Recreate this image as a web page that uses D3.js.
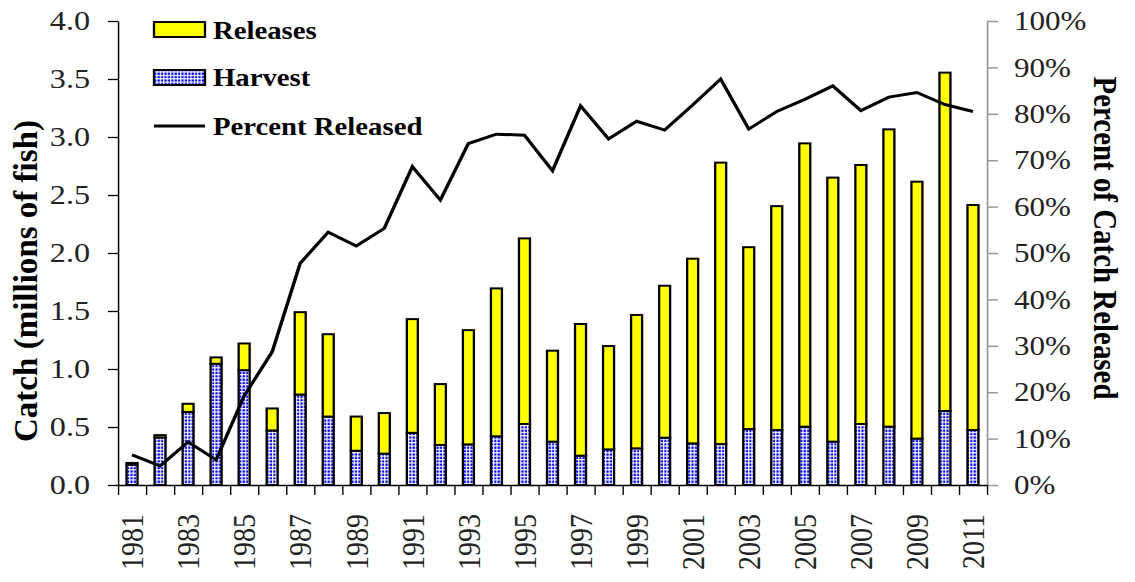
<!DOCTYPE html>
<html><head><meta charset="utf-8">
<script src="https://cdn.jsdelivr.net/npm/d3@7"></script>
<style>body{margin:0;background:#fff}svg{display:block}</style>
</head><body><svg id="c" width="1135" height="582"></svg>
<script>
const years = d3.range(1981, 2012);
const harvest = [0.175,0.41,0.63,1.045,0.99,0.47,0.78,0.59,0.295,0.27,
  0.45,0.345,0.35,0.42,0.526,0.374,0.253,0.307,0.316,0.408,
  0.359,0.353,0.482,0.474,0.503,0.374,0.526,0.503,0.40,0.638,0.474];
const releases = [0.015,0.02,0.07,0.055,0.23,0.19,0.71,0.71,0.295,0.35,
  0.98,0.525,0.985,1.275,1.60,0.784,1.135,0.891,1.15,1.31,
  1.592,2.426,1.568,1.93,2.442,2.276,2.233,2.563,2.215,2.917,1.94];
const percentReleased = [6.5,4.1,9.3,5.4,19.2,28.7,47.8,54.5,51.5,55.3,
  68.6,61.4,73.6,75.6,75.4,67.7,81.7,74.6,78.4,76.5,
  81.9,87.5,76.7,80.5,83.1,86.0,80.7,83.6,84.6,82.0,80.5];
const leftTicks = [0,0.5,1.0,1.5,2.0,2.5,3.0,3.5,4.0];
const rightTicks = [0,10,20,30,40,50,60,70,80,90,100];
const labelYears = years.filter(y => y % 2 === 1);
const legendLabels = ["Releases","Harvest","Percent Released"];
const leftTitle = "Catch (millions of fish)";
const rightTitle = "Percent of Catch Released";

const SX = 1.15;               // horizontal stretch of the original picture
const X = px => px / SX;       // screen px -> inner coords
const FONT = "'Liberation Serif','Times New Roman',serif";

const svg = d3.select("#c");
const defs = svg.append("defs");
const P = 3.4;
const pat = defs.append("pattern").attr("id","hatch").attr("patternUnits","userSpaceOnUse")
  .attr("width", X(P)).attr("height", P);
pat.append("rect").attr("width", X(P)).attr("height", P).attr("fill","#0000ff");
pat.append("rect").attr("width", X(1.2)).attr("height", P).attr("fill","#ffffff");
pat.append("rect").attr("width", X(P)).attr("height", 1.2).attr("fill","#ffffff");

const g = svg.append("g").attr("transform", `scale(${SX},1)`);

const plotL = X(118), plotR = X(987), plotT = 21, plotB = 485;
const x = d3.scaleLinear().domain([1980.5, 2011.5]).range([plotL, plotR]);
const y = d3.scaleLinear().domain([0, 4]).range([plotB, plotT]);
const yR = d3.scaleLinear().domain([0, 100]).range([plotB, plotT]);
const barW = X(11);

// bars
const rows = years.map((yr,i) => ({year: yr, harvest: harvest[i], releases: releases[i]}));
const stack = d3.stack().keys(["harvest","releases"])(rows);
const fills = {harvest: "url(#hatch)", releases: "#ffff00"};
stack.forEach(layer => {
  g.append("g").selectAll("rect").data(layer).join("rect")
    .attr("x", d => x(d.data.year) - barW/2)
    .attr("width", barW)
    .attr("y", d => y(d[1]))
    .attr("height", d => y(d[0]) - y(d[1]))
    .attr("fill", fills[layer.key])
    .attr("stroke", "#000").attr("stroke-width", 2);
});

// line
const line = d3.line().x((d,i) => x(years[i])).y(d => yR(d));
g.append("path").datum(percentReleased).attr("d", line)
  .attr("fill","none").attr("stroke","#000").attr("stroke-width",3)
  .attr("stroke-linejoin","miter");

// left axis
const ax = g.append("g").attr("transform", `translate(${plotL},0)`)
  .call(d3.axisLeft(y).tickValues(leftTicks).tickFormat(d3.format(".1f"))
    .tickSize(X(10)).tickSizeOuter(0).tickPadding(15.6));
ax.select(".domain").attr("stroke","#000").attr("stroke-width",1.3);
ax.selectAll(".tick line").attr("stroke","#000").attr("stroke-width",1.3);
ax.selectAll("text").attr("font-family",FONT).attr("font-size",28).attr("fill","#222");

// right axis
const ar = g.append("g").attr("transform", `translate(${plotR},0)`)
  .call(d3.axisRight(yR).tickValues(rightTicks).tickFormat(d => d + "%")
    .tickSize(X(11)).tickSizeOuter(0).tickPadding(13.9));
ar.select(".domain").attr("stroke","#999").attr("stroke-width",1.5);
ar.selectAll(".tick line").attr("stroke","#999").attr("stroke-width",1.5);
ar.selectAll("text").attr("font-family",FONT).attr("font-size",27).attr("fill","#222");

// bottom axis (ticks at band boundaries)
const ab = g.append("g").attr("transform", `translate(0,${plotB})`)
  .call(d3.axisBottom(x).tickValues(d3.range(1980.5, 2012, 1)).tickFormat("")
    .tickSize(10).tickSizeOuter(0));
ab.select(".domain").attr("stroke","#000").attr("stroke-width",1.3);
ab.selectAll(".tick line").attr("stroke","#000").attr("stroke-width",1.2);

// x labels
g.append("g").selectAll("text").data(labelYears).join("text")
  .attr("transform", d => `translate(${x(d)},514) rotate(-90)`)
  .attr("text-anchor","end").attr("dy","0.35em")
  .attr("font-family",FONT).attr("font-size",28).attr("fill","#222")
  .text(d => d);

// titles
g.append("text").attr("transform", `translate(${X(37)},281) rotate(-90)`)
  .attr("text-anchor","middle").attr("font-family",FONT).attr("font-weight","bold")
  .attr("font-size",30).attr("textLength",322).attr("lengthAdjust","spacingAndGlyphs")
  .text(leftTitle);
g.append("text").attr("transform", `translate(${X(1094)},238) rotate(90)`)
  .attr("text-anchor","middle").attr("font-family",FONT).attr("font-weight","bold")
  .attr("font-size",29).attr("textLength",323).attr("lengthAdjust","spacingAndGlyphs")
  .text(rightTitle);

// legend
const lg = g.append("g");
const lx = X(154), lw = X(51), tx = X(213);
lg.append("rect").attr("x",lx).attr("y",22).attr("width",lw).attr("height",15)
  .attr("fill","#ffff00").attr("stroke","#000").attr("stroke-width",2);
lg.append("rect").attr("x",lx).attr("y",70).attr("width",lw).attr("height",15)
  .attr("fill","url(#hatch)").attr("stroke","#000").attr("stroke-width",2);
lg.append("line").attr("x1",lx).attr("x2",lx+lw).attr("y1",126).attr("y2",126)
  .attr("stroke","#000").attr("stroke-width",3);
const ly = [39, 86, 135];
lg.selectAll("text").data(legendLabels).join("text")
  .attr("x", tx).attr("y", (d,i) => ly[i])
  .attr("font-family",FONT).attr("font-weight","bold").attr("font-size",25).attr("fill","#000")
  .text(d => d);
</script></body></html>
